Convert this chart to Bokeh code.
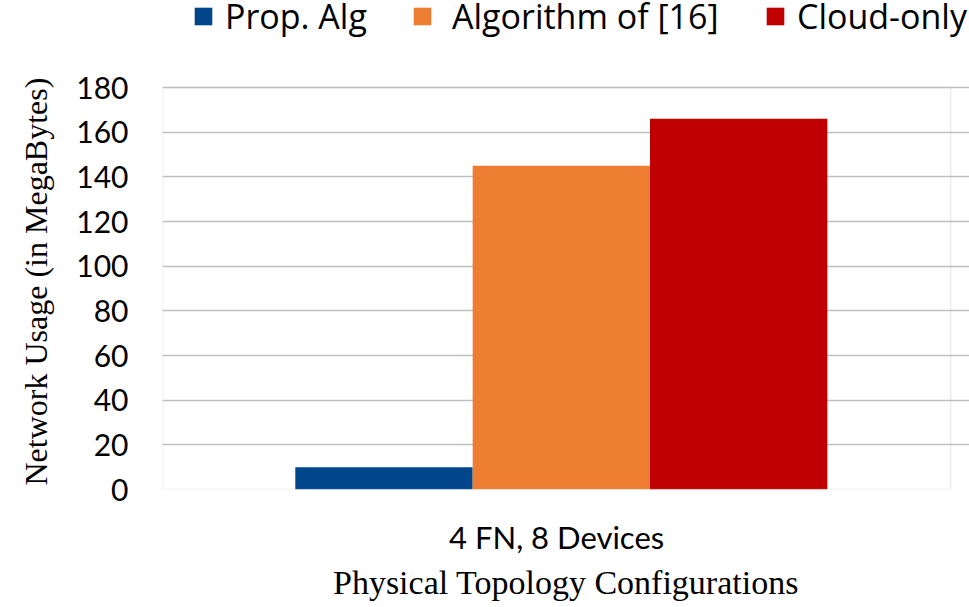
import numpy as np
from bokeh.plotting import figure
from bokeh.models import (Range1d, Legend, LegendItem, FixedTicker, Title,
                          ColumnDataSource, BoxAnnotation)
from bokeh.transform import dodge
from bokeh.embed import file_html
from bokeh.resources import INLINE

categories = ["4 FN, 8 Devices"]
series = ["Prop. Alg", "Algorithm of [16]", "Cloud-only"]
prop_alg = [10]
algorithm_16 = [145]
cloud_only = [166]
y_ticks = [0, 20, 40, 60, 80, 100, 120, 140, 160, 180]
y_max = 180

colors = ["#01458A", "#ED7D31", "#C00000"]

n = len(categories)
xpos = list(np.arange(n) + 0.5)

# frame reaches the top and right edges of the canvas so the legend is never clipped;
# the visible plot box (0-180, 0-n) is drawn with a BoxAnnotation
p = figure(width=969, height=607, x_range=Range1d(0, n * 816 / 797), y_range=Range1d(0, 219),
           output_backend="svg", toolbar_location=None,
           min_border_left=153, min_border_right=0, min_border_top=0, min_border_bottom=118)

src = ColumnDataSource(dict(x=xpos, a=prop_alg, b=algorithm_16, c=cloud_only))
bw = 0.225
shift = 0.006
offsets = [-bw + shift, shift, bw + shift]
renderers = []
for key, col, off in zip(["a", "b", "c"], colors, offsets):
    r = p.vbar(x=dodge("x", off), top=key, width=bw, source=src,
               fill_color=col, line_color=None)
    renderers.append(r)

p.yaxis.ticker = FixedTicker(ticks=y_ticks)
p.ygrid.ticker = FixedTicker(ticks=y_ticks)
p.xaxis.ticker = FixedTicker(ticks=xpos)
p.xaxis.major_label_overrides = {float(x): c for x, c in zip(xpos, categories)}
p.xgrid.grid_line_color = None
p.ygrid.grid_line_color = "#BFBFBF"
p.ygrid.grid_line_width = 1.5
p.outline_line_color = None
p.add_layout(BoxAnnotation(bottom=0, top=y_max, right=n, fill_alpha=0, line_color="#BFBFBF",
                           line_width=1.5))

for ax in [p.xaxis, p.yaxis]:
    ax.axis_line_color = None
    ax.major_tick_line_color = None
    ax.minor_tick_line_color = None
    ax.major_label_text_font = "Lato"
    ax.major_label_text_color = "#000000"
    ax.axis_label_text_font = "Liberation Serif"
    ax.axis_label_text_font_style = "normal"
    ax.axis_label_text_color = "#000000"

p.yaxis.major_label_text_font_size = "30px"
p.xaxis.major_label_text_font_size = "31px"
p.xaxis.axis_label_text_font_size = "34px"
p.yaxis.major_label_standoff = 28
p.xaxis.major_label_standoff = 22
p.xaxis.axis_label = "Physical Topology Configurations"
p.xaxis.axis_label_standoff = 5

# y-axis title, placed so it is centred on the 0-180 box rather than the whole frame
p.add_layout(Title(text="Network Usage (in MegaBytes)", align="left", offset=4,
                   vertical_align="top", standoff=35, text_font="Liberation Serif",
                   text_font_size="32px", text_font_style="normal", text_color="#000000"),
             "left")

leg_x = [30, 249, 602]
standoffs = [11, 19, 11]
for name, r, lx, so in zip(series, renderers, leg_x, standoffs):
    leg = Legend(items=[LegendItem(label=name, renderers=[r])], location=(lx, 450),
                 orientation="horizontal", border_line_color=None, background_fill_alpha=0,
                 label_text_font="Open Sans", label_text_font_size="34px",
                 label_text_color="#000000",
                 glyph_width=22, glyph_height=22, label_standoff=so, padding=0, margin=0,
                 label_height=22)
    p.add_layout(leg, "center")

open("out.html", "w").write(file_html(p, INLINE))
